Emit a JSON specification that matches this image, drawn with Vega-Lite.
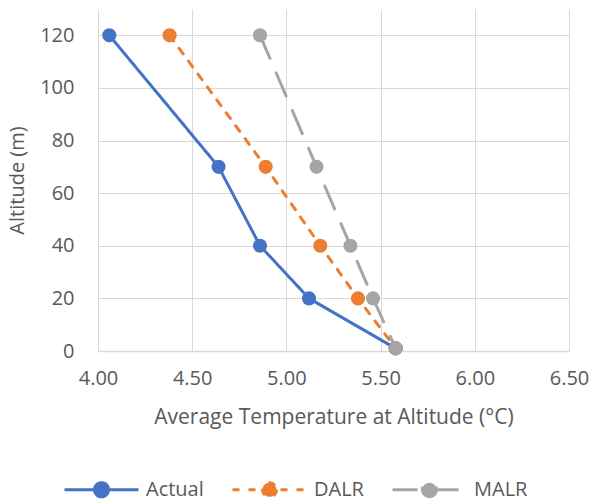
{
  "$schema": "https://vega.github.io/schema/vega-lite/v6.json",
  "autosize": "none",
  "width": 471,
  "height": 342,
  "padding": {"left": 98, "top": 9, "right": 24, "bottom": 151},
  "background": "white",
  "config": {
    "view": {"stroke": null},
    "font": "Open Sans",
    "axis": {
      "labelFont": "Open Sans", "labelFontSize": 20, "labelColor": "#595959",
      "titleFont": "Open Sans", "titleFontSize": 20, "titleColor": "#595959", "titleFontWeight": "normal",
      "gridColor": "#D9D9D9", "gridWidth": 1, "ticks": false
    }
  },
  "data": {
    "values": [
      {"series": "Actual", "temp": 4.06, "alt": 120},
      {"series": "Actual", "temp": 4.64, "alt": 70},
      {"series": "Actual", "temp": 4.86, "alt": 40},
      {"series": "Actual", "temp": 5.12, "alt": 20},
      {"series": "Actual", "temp": 5.58, "alt": 1},
      {"series": "DALR", "temp": 4.38, "alt": 120},
      {"series": "DALR", "temp": 4.89, "alt": 70},
      {"series": "DALR", "temp": 5.18, "alt": 40},
      {"series": "DALR", "temp": 5.38, "alt": 20},
      {"series": "DALR", "temp": 5.58, "alt": 1},
      {"series": "MALR", "temp": 4.86, "alt": 120},
      {"series": "MALR", "temp": 5.16, "alt": 70},
      {"series": "MALR", "temp": 5.34, "alt": 40},
      {"series": "MALR", "temp": 5.46, "alt": 20},
      {"series": "MALR", "temp": 5.58, "alt": 1}
    ]
  },
  "encoding": {
    "x": {
      "field": "temp", "type": "quantitative",
      "scale": {"domain": [4, 6.5], "nice": false, "zero": false},
      "axis": {
        "title": "Average Temperature at Altitude (°C)",
        "titleFontSize": 21,
        "values": [4, 4.5, 5, 5.5, 6, 6.5], "format": ".2f",
        "labelFlush": false, "labelOverlap": false,
        "labelPadding": 17, "titlePadding": 18,
        "domainColor": "#D9D9D9", "domainWidth": 1.5
      }
    },
    "y": {
      "field": "alt", "type": "quantitative",
      "scale": {"domain": [0, 130], "nice": false},
      "axis": {
        "title": "Altitude (m)",
        "values": [0, 20, 40, 60, 80, 100, 120],
        "labelFlush": false,
        "labelPadding": 24, "titlePadding": 12, "domain": false
      }
    },
    "color": {
      "field": "series", "type": "nominal",
      "scale": {"domain": ["Actual", "DALR", "MALR"], "range": ["#4472C4", "#ED7D31", "#A5A5A5"]},
      "legend": {
        "title": null, "orient": "none", "direction": "horizontal",
        "legendX": -35, "legendY": 442,
        "symbolType": "M-1,0H1M0.19,0A0.19,0.19,0,1,1,-0.19,0A0.19,0.19,0,1,1,0.19,0Z",
        "symbolSize": 5476, "symbolStrokeWidth": 3,
        "labelFont": "Open Sans", "labelFontSize": 20, "labelColor": "#595959",
        "labelOffset": 6, "columnPadding": 22,
        "encode": {"symbols": {"update": {"fill": {"scale": "color", "field": "value"}, "stroke": {"scale": "color", "field": "value"}}}}
      }
    },
    "strokeDash": {
      "field": "series", "type": "nominal",
      "scale": {"domain": ["Actual", "DALR", "MALR"], "range": [[1, 0], [7, 9], [25, 16]]},
      "legend": null
    }
  },
  "layer": [
    {"mark": {"type": "line", "strokeWidth": 3, "strokeCap": "round"}},
    {"mark": {"type": "point", "shape": "circle", "filled": true, "size": 200, "opacity": 1}, "encoding": {"strokeDash": {"value": [1, 0]}}}
  ]
}
